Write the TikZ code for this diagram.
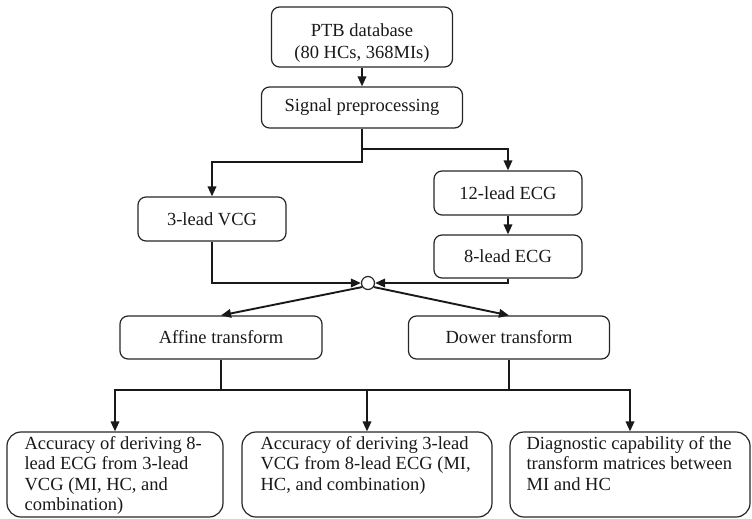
\documentclass[tikz,border=0pt]{standalone}
\usepackage{fontspec}
\setmainfont{Liberation Serif}
\usetikzlibrary{arrows.meta,calc}

\begin{document}
\begin{tikzpicture}[x=1pt,y=-1pt,
  box/.style={draw=black!85, line width=1.2pt, rounded corners=8pt, inner sep=0pt,
    font=\fontsize{18.5}{20.5}\selectfont, text=black!90},
  bigbox/.style={box, rounded corners=14pt},
  txt/.style={align=left, inner sep=0pt, font=\fontsize{18.5}{20.5}\selectfont, text=black!90},
  conn/.style={draw=black!90, line width=1.9pt},
  arr/.style={conn, -{Stealth[length=10pt,width=8.5pt,inset=0pt]}},
  hubstyle/.style={draw=black!85, circle, minimum size=13pt, inner sep=0pt, line width=1.2pt, fill=white},
]
\path[use as bounding box] (0,0) rectangle (752,519);

% top chain
\node[box, minimum width=181, minimum height=60] (ptb) at (362,37) {};
\node[txt, align=center, font=\fontsize{18.5}{22.5}\selectfont] (ptbtext) at ($(ptb.center)+(0,6)$)
  {PTB database\\(80 HCs, 368MIs)};
\node[box, minimum width=201, minimum height=41] (sig) at (362,107.5) {Signal preprocessing};

% branches
\node[box, minimum width=148, minimum height=44] (vcg) at (212,219) {3-lead VCG};
\node[box, minimum width=148, minimum height=44] (ecg12) at (508,193) {12-lead ECG};
\node[box, minimum width=148, minimum height=43] (ecg8) at (508,256.5) {8-lead ECG};

% merge point
\node[hubstyle] (hub) at (368,283) {};

% transforms
\node[box, minimum width=202, minimum height=43] (aff) at (221,337.5) {Affine transform};
\node[box, minimum width=201, minimum height=43] (dow) at (509,337.5) {Dower transform};

% result boxes
\node[bigbox, minimum width=216, minimum height=85] (r1) at (115,474.5) {};
\node[bigbox, minimum width=250, minimum height=85] (r2) at (367,474.5) {};
\node[bigbox, minimum width=240, minimum height=85] (r3) at (630,474.5) {};

\node[txt, anchor=north west] (t1) at ($(r1.north west)+(18,4.5)$)
  {Accuracy of deriving 8-\\lead ECG from 3-lead\\VCG (MI, HC, and\\combination)};
\node[txt, anchor=north west] (t2) at ($(r2.north west)+(19,4.5)$)
  {Accuracy of deriving 3-lead\\VCG from 8-lead ECG (MI,\\HC, and combination)};
\node[txt, anchor=north west] (t3) at ($(r3.north west)+(17,4.5)$)
  {Diagnostic capability of the\\transform matrices between\\MI and HC};

% connectors
\draw[arr] (ptb.south) -- (sig.north);
\coordinate (j1) at (362,149);
\coordinate (j2) at (362,162);
\draw[arr] (sig.south) -- (j1) -| (ecg12.north);
\draw[arr] (j1) -- (j2) -| (vcg.north);
\draw[arr] (ecg12) -- (ecg8);
\draw[arr] (vcg.south) |- (hub.west);
\draw[arr] (ecg8.south) |- (hub.east);
\draw[arr] (hub.215) -- (aff.north);
\draw[arr] (hub.-35) -- (dow.north);

\coordinate (bus) at (368,390);
\draw[conn] (aff.south) -- (aff.south |- bus);
\draw[conn] (dow.south) -- (dow.south |- bus);
\draw[arr] (r2.north |- bus) -| (r1.north);
\draw[arr] (r2.north |- bus) -| (r3.north);
\draw[arr] (r2.north |- bus) -- (r2.north);
\end{tikzpicture}
\end{document}
